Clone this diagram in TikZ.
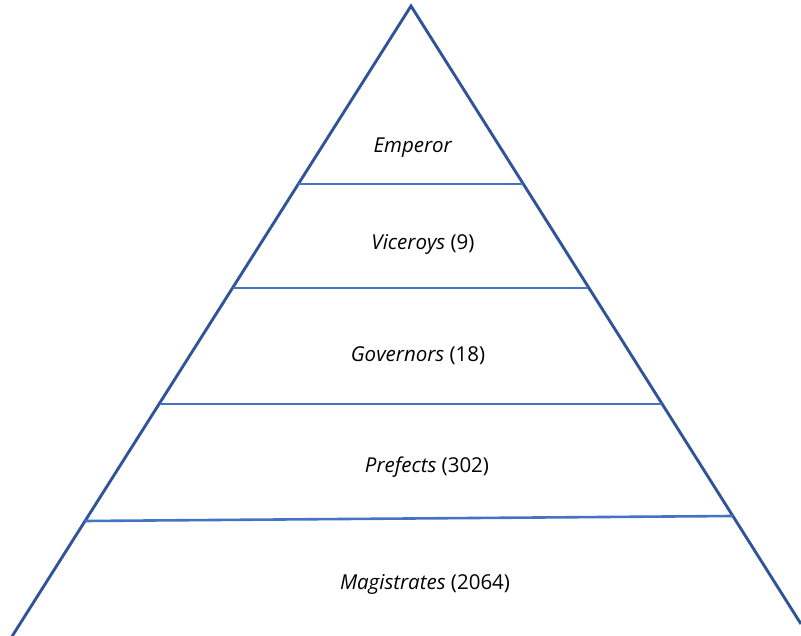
\documentclass[tikz,border=0pt]{standalone}
\usepackage{fontspec}
\setmainfont{Open Sans}
\definecolor{sideblue}{HTML}{2F5597}
\definecolor{barblue}{HTML}{4472C4}
\tikzset{
  side/.style={draw=sideblue, line width=2.9pt},
  bar/.style={draw=barblue, line width=2.6pt},
  tier/.style={font=\fontsize{20.5}{24}\selectfont, text=black}
}
\begin{document}
\begin{tikzpicture}[x=1pt,y=-1pt]
\useasboundingbox (0,0) rectangle (801,636);
\coordinate (apex) at (411,6);
\coordinate (bl) at (11,638);
\coordinate (br) at (801,624);
\draw[side] (bl) -- (apex) -- (br);
\draw[bar] (298,184) -- (523,184);
\draw[bar] (233,288) -- (588,288);
\draw[bar] (160,404) -- (662,404);
\draw[bar] (85,521) -- (733,516);
\node[tier] (emperor) at (413,148) {\textit{Emperor}};
\node[tier] (viceroys) at (423,244) {\textit{Viceroys} (9)};
\node[tier] (governors) at (418,356) {\textit{Governors} (18)};
\node[tier] (prefects) at (427,467) {\textit{Prefects} (302)};
\node[tier] (magistrates) at (425,584) {\textit{Magistrates} (2064)};
\end{tikzpicture}
\end{document}
